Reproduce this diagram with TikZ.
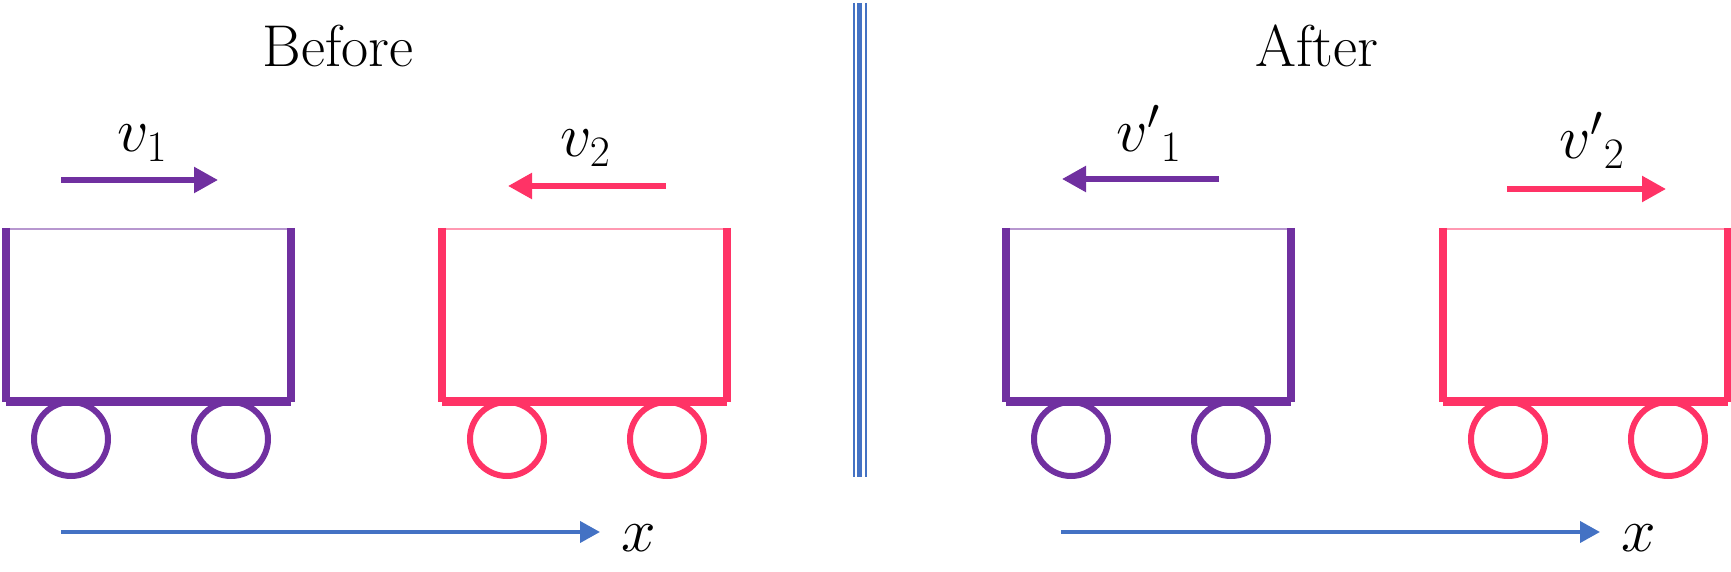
\RequirePackage{fix-cm}
\documentclass[tikz,border=0pt]{standalone}
\usepackage{fontspec}
\usetikzlibrary{arrows.meta}
\definecolor{purp}{HTML}{7030A0}
\definecolor{pinkc}{HTML}{FF3366}
\definecolor{axisblue}{HTML}{4472C4}
\tikzset{
  cart/.pic={
    \draw[line width=0.75pt, draw opacity=0.5] (0,1) -- (285,1);
    \draw[line width=3pt] (65,211) circle[radius=37];
    \draw[line width=3pt] (225,211) circle[radius=37];
    \draw[line width=4.2pt] (0,0) -- (0,174);
    \draw[line width=4.2pt] (285,0) -- (285,174);
    \draw[line width=4.5pt] (0,173.5) -- (285,173.5);
  },
  velarrow/.style={line width=2.7pt, -{Triangle[length=12pt, width=12.5pt]}},
  axisarrow/.style={axisblue, line width=2pt, -{Triangle[length=10pt, width=10.5pt]}},
  title/.style={anchor=base, inner sep=0pt, font=\fontsize{29.5}{35}\selectfont},
  mathlabel/.style={anchor=base west, inner sep=0pt, font=\fontsize{31}{37}\selectfont},
  divider/.style={axisblue}
}
\begin{document}
\begin{tikzpicture}[x=0.5pt, y=-0.5pt]
\useasboundingbox (0,0) rectangle (1731,572);

% titles
\node[title] (before) at (338,67) {Before};
\node[title] (after) at (1317,67) {After};

% divider
\draw[divider, line width=1pt] (854.3,3) -- (854.3,477);
\draw[divider, line width=2.5pt] (859.8,3) -- (859.8,477);
\draw[divider, line width=0.85pt] (865.8,3) -- (865.8,477);

% carts
\pic[purp] (cartA) at (6,228) {cart};
\pic[pinkc] (cartB) at (442,228) {cart};
\pic[purp] (cartC) at (1006,228) {cart};
\pic[pinkc] (cartD) at (1443,228) {cart};

% velocity arrows
\coordinate (v1s) at (61,180);   \coordinate (v1e) at (218,180);
\coordinate (v2s) at (666,186);  \coordinate (v2e) at (508,186);
\coordinate (w1s) at (1219,179); \coordinate (w1e) at (1062,179);
\coordinate (w2s) at (1507,189); \coordinate (w2e) at (1666,189);
\draw[velarrow, purp] (v1s) -- (v1e);
\draw[velarrow, pinkc] (v2s) -- (v2e);
\draw[velarrow, purp] (w1s) -- (w1e);
\draw[velarrow, pinkc] (w2s) -- (w2e);

% velocity labels
\node[mathlabel] (lv1) at (117,152) {$v_1$};
\node[mathlabel] (lv2) at (560,157) {$v_2$};
\node[mathlabel] (lw1) at (1116,152) {$v'{}_1$};
\node[mathlabel] (lw2) at (1559,159) {$v'{}_2$};

% x axes
\coordinate (a1s) at (61,532);   \coordinate (a1e) at (600,532);
\coordinate (a2s) at (1061,532); \coordinate (a2e) at (1600,532);
\draw[axisarrow] (a1s) -- (a1e);
\draw[axisarrow] (a2s) -- (a2e);
\node[mathlabel] (x1) at (621,551) {$x$};
\node[mathlabel] (x2) at (1621,551) {$x$};
\end{tikzpicture}
\end{document}
